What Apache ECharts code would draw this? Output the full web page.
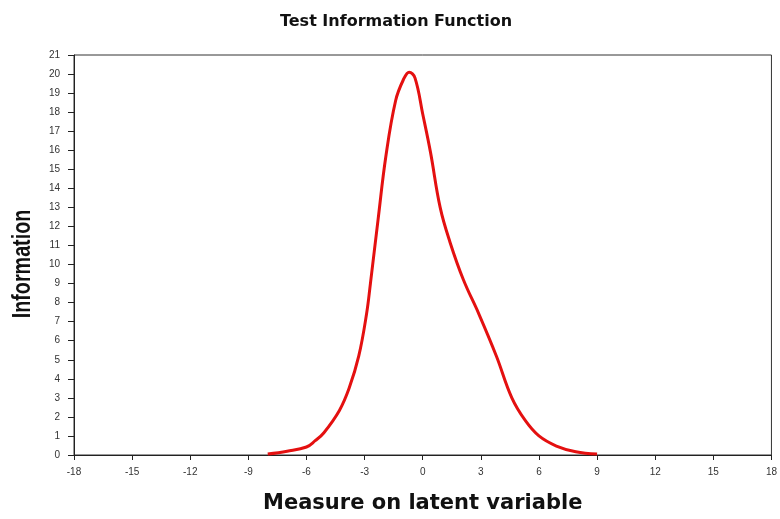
<!DOCTYPE html>
<html lang="en">

<head>
  <meta charset="UTF-8">
  <title>Test Information Function</title>
  <style>
    html, body { margin: 0; padding: 0; background: #fff; }
  </style>
</head>

<body>
  <div id="main" style="width: 780px;height:519px;"></div>

  <script src="https://cdn.jsdelivr.net/npm/echarts@6/dist/echarts.min.js"></script>
  <script>

  // measure on latent variable (x) and information (y)
  const measure = [-8.0, -7.0, -6.0, -5.55, -5.1, -4.3, -3.8, -3.3, -2.9, -2.7, -2.3, -1.9, -1.4, -1.0, -0.7,
    -0.4, 0.0, 0.4, 0.9, 1.4, 2.1, 2.9, 3.8, 4.6, 5.3, 6.0, 6.9, 7.9, 9.0];
  const information = [0.05, 0.2, 0.42, 0.75, 1.17, 2.34, 3.5, 5.2, 7.4, 9.0, 12.4, 15.7, 18.6, 19.7, 20.1,
    19.8, 17.9, 15.9, 13.0, 11.2, 9.2, 7.4, 5.2, 3.0, 1.8, 1.0, 0.47, 0.17, 0.05];

  const xTicks = { min: -18, max: 18, step: 3 };
  const yTicks = { min: 0, max: 21, step: 1 };

  let points = measure.map((x, i) => [x, information[i]]);

  let myChart = echarts.init(document.getElementById('main'));

  let labelStyle = { color: '#333', fontSize: 10, fontFamily: 'Liberation Sans' };

  let option = {
    animation: false,
    title: {
      text: 'Test Information Function',
      left: 391,
      top: 9,
      textAlign: 'center',
      textStyle: { fontFamily: 'DejaVu Sans', fontWeight: 'bold', fontSize: 16, color: '#111' }
    },
    grid: {
      left: 74,
      right: 7,
      top: 55,
      bottom: 46,
      show: true,
      borderColor: '#333',
      borderWidth: 1
    },
    xAxis: {
      type: 'value',
      min: xTicks.min,
      max: xTicks.max,
      interval: xTicks.step,
      name: 'Measure on latent variable',
      nameLocation: 'middle',
      nameGap: 38,
      nameTextStyle: { fontFamily: 'DejaVu Sans', fontWeight: 'bold', fontSize: 21, color: '#111' },
      axisLine: { onZero: false, lineStyle: { color: '#222', width: 1 } },
      axisTick: { length: 5, lineStyle: { color: '#222' } },
      axisLabel: Object.assign({ margin: 12 }, labelStyle),
      splitLine: { show: false }
    },
    yAxis: {
      type: 'value',
      min: yTicks.min,
      max: yTicks.max,
      interval: yTicks.step,
      axisLine: { show: true, onZero: false, lineStyle: { color: '#222', width: 1 } },
      axisTick: { show: true, length: 6, lineStyle: { color: '#222' } },
      axisLabel: Object.assign({ margin: 14 }, labelStyle),
      splitLine: { show: false }
    },
    graphic: [{
      type: 'text',
      x: 10,
      y: 264,
      rotation: Math.PI / 2,
      scaleX: 0.76,
      style: {
        text: 'Information',
        fontFamily: 'Liberation Sans',
        fontWeight: 'bold',
        fontSize: 26,
        fill: '#111',
        align: 'center',
        verticalAlign: 'top'
      }
    }],
    series: [{
      type: 'line',
      data: points,
      smooth: 0.4,
      showSymbol: false,
      lineStyle: { color: '#e41010', width: 3 },
      z: 5
    }]
  };

  myChart.setOption(option);
  </script>
</body>

</html>
